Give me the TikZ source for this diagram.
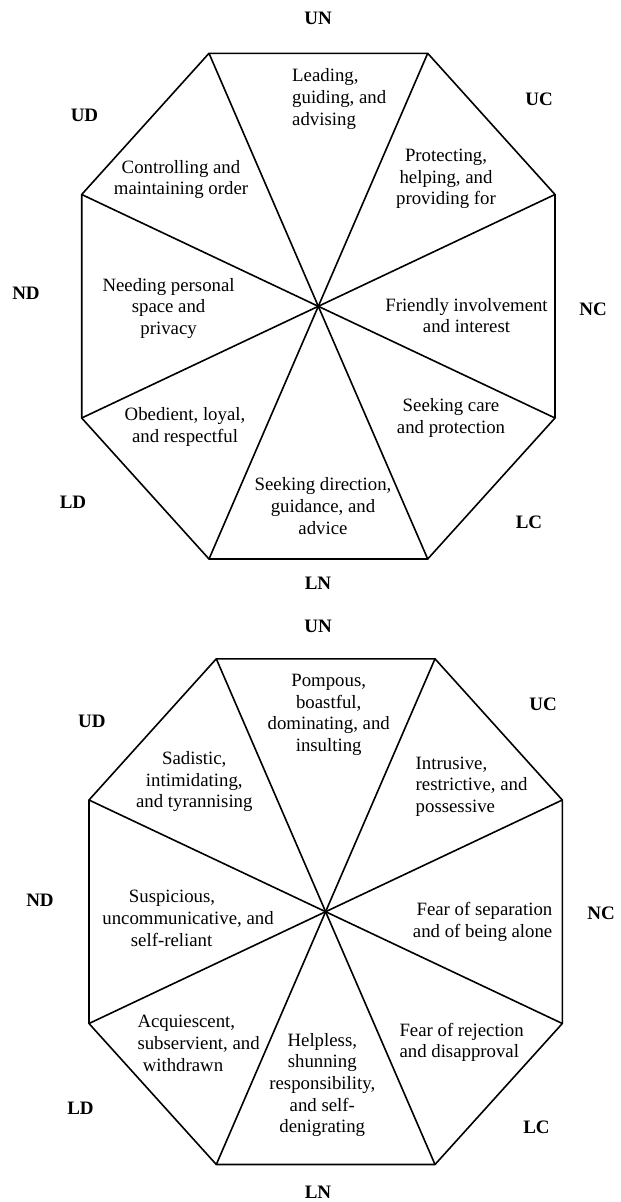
\documentclass[tikz,border=0pt]{standalone}
\usepackage{fontspec}
\setmainfont{Liberation Serif}
\begin{document}
\begin{tikzpicture}[x=1pt,y=-1pt,
  edge/.style={line width=1.6pt,black},
  lab/.style={font=\bfseries\fontsize{19}{22}\selectfont,inner sep=0pt},
  txt/.style={font=\fontsize{18.8}{21.7}\selectfont,inner sep=0pt,align=center},
  txtl/.style={txt,align=left,anchor=west},
  txtr/.style={txt,align=right,anchor=east}]
\useasboundingbox[fill=white] (0,0) rectangle (621,1202);

% ---------- top octagon ----------
\coordinate (a1) at (209,53.3);
\coordinate (a2) at (427.7,53.3);
\coordinate (a3) at (555,194.5);
\coordinate (a4) at (555,418);
\coordinate (a5) at (427.7,559);
\coordinate (a6) at (209,559);
\coordinate (a7) at (81.7,418);
\coordinate (a8) at (81.7,194.5);
\coordinate (ac) at (318.3,306.3);
\draw[edge] (a1)--(a2)--(a3)--(a4)--(a5)--(a6)--(a7)--(a8)--cycle;
\foreach \i in {1,...,8} \draw[edge] (ac)--(a\i);

\node[lab] (aUN) at (318,18.3) {UN};
\node[lab] (aUD) at (84.5,115) {UD};
\node[lab] (aUC) at (539,99) {UC};
\node[lab] (aND) at (26,293) {ND};
\node[lab] (aNC) at (593,309.3) {NC};
\node[lab] (aLD) at (73,502) {LD};
\node[lab] (aLC) at (529,522) {LC};
\node[lab] (aLN) at (318,583.3) {LN};

\node[txtl] (a12) at (292,99.2) {Leading,\\guiding, and\\advising};
\node[txt] (a81) at (181,179.5) {Controlling and\\maintaining order};
\node[txt] (a23) at (446,179) {Protecting,\\helping, and\\providing for};
\node[txt] (a78) at (168.6,308.3) {Needing personal\\space and\\privacy};
\node[txt] (a34) at (466.5,315.5) {Friendly involvement\\and interest};
\node[txt] (a67) at (185,427.2) {Obedient, loyal,\\and respectful};
\node[txt] (a45) at (451,417.8) {Seeking care\\and protection};
\node[txt] (a56) at (323,506) {Seeking direction,\\guidance, and\\advice};

% ---------- bottom octagon ----------
\coordinate (b1) at (216.3,658.8);
\coordinate (b2) at (435,658.8);
\coordinate (b3) at (562.3,800);
\coordinate (b4) at (562.3,1023.5);
\coordinate (b5) at (435,1164.5);
\coordinate (b6) at (216.3,1164.5);
\coordinate (b7) at (89,1023.5);
\coordinate (b8) at (89,800);
\coordinate (bc) at (325.6,911.7);
\draw[edge] (b1)--(b2)--(b3)--(b4)--(b5)--(b6)--(b7)--(b8)--cycle;
\foreach \i in {1,...,8} \draw[edge] (bc)--(b\i);

\node[lab] (bUN) at (318,626) {UN};
\node[lab] (bUD) at (91.8,721.7) {UD};
\node[lab] (bUC) at (543,704) {UC};
\node[lab] (bND) at (40,900.7) {ND};
\node[lab] (bNC) at (601,913.3) {NC};
\node[lab] (bLD) at (80.5,1108.2) {LD};
\node[lab] (bLC) at (536.5,1127) {LC};
\node[lab] (bLN) at (318,1191.8) {LN};

\node[txt] (b12) at (328.7,715) {Pompous,\\boastful,\\dominating, and\\insulting};
\node[txt] (b81) at (194.3,781.7) {Sadistic,\\intimidating,\\and tyrannising};
\node[txtl] (b23) at (415.5,786.5) {Intrusive,\\restrictive, and\\possessive};
\node[txtl] (b78) at (102.2,918.3) {\hspace*{26.5pt}Suspicious,\\uncommunicative, and\\\hspace*{28.5pt}self-reliant};
\node[txtr] (b34) at (552.5,921.7) {Fear of separation\\and of being alone};
\node[txtl] (b67) at (137.3,1043.3) {Acquiescent,\\subservient, and\\\hspace*{5.3pt}withdrawn};
\node[txt] (b56) at (322.3,1085) {Helpless,\\shunning\\responsibility,\\and self-\\denigrating};
\node[txtl] (b45) at (399.3,1042.5) {Fear of rejection\\and disapproval};
\end{tikzpicture}
\end{document}
